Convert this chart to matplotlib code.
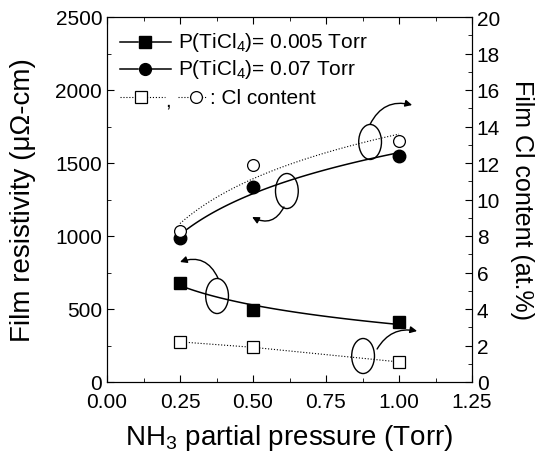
"""Film resistivity and Cl content vs NH3 partial pressure."""

import matplotlib

matplotlib.use("Agg")
import matplotlib.pyplot as plt
import numpy as np
from matplotlib.patches import Ellipse

plt.rcParams["font.family"] = ["Liberation Sans", "DejaVu Sans"]
plt.rcParams["mathtext.fontset"] = "custom"
plt.rcParams["mathtext.rm"] = "Liberation Sans"
plt.rcParams["mathtext.default"] = "regular"

# data
nh3 = [0.25, 0.50, 1.00]
rho_low = [678, 493, 411]      # P(TiCl4) = 0.005 Torr, uOhm-cm
rho_high = [986, 1336, 1548]   # P(TiCl4) = 0.07 Torr, uOhm-cm
cl_low = [2.2, 1.9, 1.1]       # at.%
cl_high = [8.3, 11.9, 13.2]    # at.%


def log_fit(x, y, xs):
    coef = np.polyfit(np.log(x), y, 1)
    return np.polyval(coef, np.log(xs))


fig = plt.figure(figsize=(5.51, 4.56), dpi=100)
ax = fig.add_axes([107 / 551, 1 - 383 / 456, 365 / 551, 365 / 456])
ax2 = ax.twinx()

xs = np.linspace(0.25, 1.0, 100)
ax.plot(xs, log_fit(nh3, rho_low, xs), color="black", lw=1.1)
ax.plot(xs, log_fit(nh3, rho_high, xs), color="black", lw=1.1)
ax.plot(nh3, rho_low, "s", color="black", ms=8.5)
ax.plot(nh3, rho_high, "o", color="black", ms=9)

ax2.plot(nh3, cl_low, ":", color="black", lw=0.8)
ax2.plot(xs, log_fit(nh3, cl_high, xs), ":", color="black", lw=0.8)
ax2.plot(nh3, cl_low, "s", mfc="white", mec="black", mew=0.9, ms=8)
ax2.plot(nh3, cl_high, "o", mfc="white", mec="black", mew=0.9, ms=8.5)

ax.set_xlim(0, 1.25)
ax.set_ylim(0, 2500)
ax2.set_ylim(0, 20)
ax.set_xticks(np.arange(0, 1.26, 0.25))
ax.set_xticks(np.arange(0, 1.26, 0.125), minor=True)
ax.set_yticks(np.arange(0, 2501, 500))
ax.set_yticks(np.arange(0, 2501, 250), minor=True)
ax2.set_yticks(np.arange(0, 21, 2))
ax2.set_yticks(np.arange(0, 21, 1), minor=True)
ax.set_xticklabels([f"{v:.2f}" for v in np.arange(0, 1.26, 0.25)])

ax.tick_params(which="both", direction="in", top=True, labelsize=15)
ax.tick_params(which="major", length=5)
ax.tick_params(which="minor", length=3)
ax.tick_params(axis="x", pad=7)
ax2.tick_params(which="both", direction="in", labelsize=15)
ax2.tick_params(which="major", length=5)
ax2.tick_params(which="minor", length=3)

ax.set_xlabel("NH$_3$ partial pressure (Torr)", fontsize=20, labelpad=8)
ax.set_ylabel("Film resistivity (\u03bc\u03a9-cm)", fontsize=20, labelpad=14)
ax2.set_ylabel("Film Cl content (at.%)", fontsize=18, rotation=-90, labelpad=24)

# ellipses with curved arrows pointing at the matching axis
for cx, cy in [(0.616, 1308), (0.901, 1644), (0.377, 589), (0.877, 178)]:
    ax.add_patch(Ellipse((cx, cy), 0.078, 240, fill=False, lw=1.0, color="black"))

arrows = [
    ((0.606, 1199), (0.497, 1130), -0.5),
    ((0.901, 1765), (1.045, 1897), -0.4),
    ((0.380, 712), (0.250, 822), 0.45),
    ((0.925, 226), (1.062, 349), -0.35),
]
for start, end, rad in arrows:
    ax.annotate("", xy=end, xytext=start,
                arrowprops=dict(arrowstyle="-|>", color="black", lw=1.0,
                                mutation_scale=10, shrinkA=0, shrinkB=0,
                                connectionstyle=f"arc3,rad={rad}"))

# hand-made legend in axes fractions
tr = ax.transAxes
rows = [0.932, 0.858, 0.780]
for y, mk, label in [(rows[0], "s", "P(TiCl$_4$)= 0.005 Torr"),
                     (rows[1], "o", "P(TiCl$_4$)= 0.07 Torr")]:
    ax.plot([0.036, 0.085], [y, y], color="black", lw=1.1, transform=tr)
    ax.plot([0.118, 0.175], [y, y], color="black", lw=1.1, transform=tr)
    ax.plot([0.104], [y], mk, color="black", ms=8.5, transform=tr)
    ax.text(0.195, y, label, fontsize=15, va="center", ha="left", transform=tr)

y = rows[2]
ax.plot([0.036, 0.160], [y, y], ":", color="black", lw=0.8, transform=tr)
ax.plot([0.093], [y], "s", mfc="white", mec="black", mew=0.9, ms=8, transform=tr)
ax.text(0.167, y - 0.008, ",", fontsize=15, va="center", ha="center", transform=tr)
ax.plot([0.195, 0.275], [y, y], ":", color="black", lw=0.8, transform=tr)
ax.plot([0.243], [y], "o", mfc="white", mec="black", mew=0.9, ms=8.5, transform=tr)
ax.text(0.282, y, ": Cl content", fontsize=15, va="center", ha="left", transform=tr)

fig.savefig("out.png", dpi=100)
